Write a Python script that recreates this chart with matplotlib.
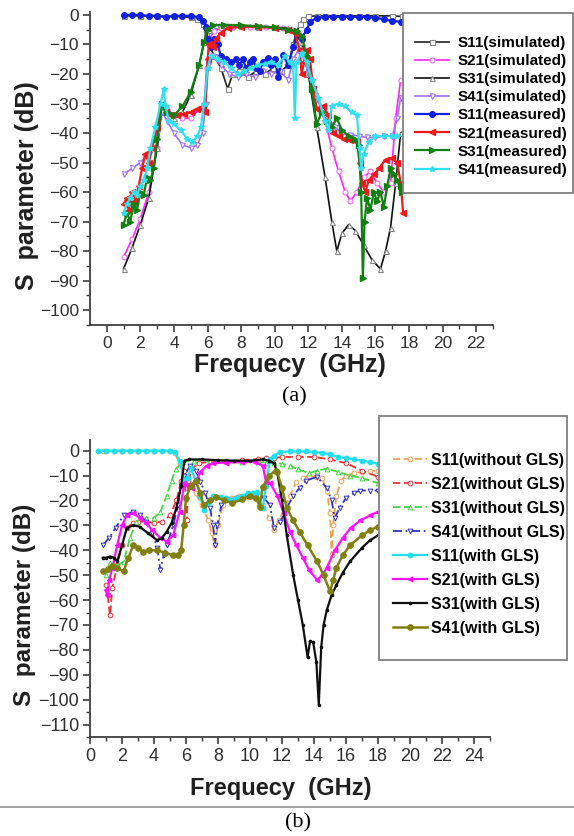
import matplotlib
matplotlib.use("Agg")
import matplotlib.pyplot as plt
from matplotlib.patches import Rectangle
from matplotlib.lines import Line2D

W, H = 574, 836

# ---------------- panel (a) data ----------------
a_s11_sim_f = [1, 2, 3, 4, 5, 5.4, 5.7, 5.9, 6.1, 6.4, 6.8, 7.2, 7.5, 7.9, 8.4, 8.9, 9.4, 9.9,
               10.4, 10.8, 11.1, 11.3, 11.5, 11.7, 12.0, 12.5, 13, 14, 15, 16, 17, 17.6]
a_s11_sim_db = [-0.3, -0.3, -0.4, -0.5, -0.8, -1.5, -3, -6, -10, -14, -18, -25, -20, -19, -21, -19, -20, -18,
                -19, -17, -10, -6, -3, -1.5, -0.5, -0.3, -0.3, -0.3, -0.3, -0.3, -0.3, -0.5]

a_s21_sim_f = [1, 1.5, 2, 2.5, 3.0, 3.3, 3.6, 4.0, 4.5, 5.0, 5.5, 5.8, 5.95, 6.1, 6.4, 6.8, 7.5, 8.5, 9.5,
               10.5, 11.0, 11.4, 11.8, 12.2, 12.6, 13.0, 13.4, 13.8, 14.2, 14.5, 14.9, 15.3, 15.7, 16.1,
               16.5, 16.9, 17.2, 17.5]
a_s21_sim_db = [-82, -76, -69, -60, -45, -31, -32, -34, -35, -35, -32, -30, -18, -8, -5.5, -4.5, -4, -4, -4.2,
                -4.5, -5, -6, -12, -22, -30, -36, -45, -53, -60, -63, -60, -55, -53, -57,
                -60, -57, -35, -22]

a_s31_sim_f = [1, 1.5, 2, 2.5, 3.0, 3.3, 3.6, 4.0, 4.5, 5.0, 5.5, 5.8, 6.1, 6.5, 7, 8, 9, 10, 10.8, 11.2,
               11.6, 12.0, 12.5, 13.0, 13.4, 13.7, 14.0, 14.4, 14.8, 15.3, 15.8, 16.3, 16.6, 16.9, 17.2, 17.5]
a_s31_sim_db = [-86, -79, -71, -62, -45, -31, -33, -35, -33, -27, -17, -9, -5, -3.5, -3.5, -3.8, -4, -4.2, -4.5, -5.5,
                -9, -20, -38, -55, -70, -80, -74, -71, -73, -78, -83, -86, -80, -72, -57, -40]

a_s41_sim_f = [1, 1.5, 2, 2.5, 3.0, 3.3, 3.6, 4.0, 4.5, 5.0, 5.4, 5.7, 5.9, 6.05, 6.3, 6.8, 7.3, 7.8, 8.3,
               8.8, 9.3, 9.8, 10.3, 10.8, 11.1, 11.4, 11.7, 12.0, 12.4, 12.8, 13.2, 13.6, 14.0, 14.5,
               15.0, 15.5, 16.0, 16.5, 17.0, 17.3, 17.5]
a_s41_sim_db = [-54, -52, -50, -47, -40, -33, -36, -40, -44, -45, -44, -40, -30, -17, -14, -17, -20, -21, -20,
                -21, -19, -20, -19, -22, -15, -12, -14, -20, -27, -32, -35, -38, -40, -40.5,
                -41, -41.5, -41.5, -41, -41, -35, -28]

a_s11_meas_f = [1.0, 1.5, 2.0, 2.5, 3.0, 3.5, 4.0, 4.5, 5.0, 5.5, 5.75, 5.9, 6.0, 6.2, 6.4, 6.6, 6.8, 7.1,
                7.4, 7.7, 7.9, 8.1, 8.3, 8.5, 8.7, 8.9, 9.1, 9.3, 9.6, 9.8, 10.0, 10.2, 10.5, 10.8, 11.1,
                11.35, 11.6, 11.9, 12.1, 12.5, 13, 13.5, 14, 14.5, 15, 15.5, 16, 16.5, 17, 17.5]
a_s11_meas_db = [0, 0, 0, -0.3, -0.2, -0.8, -0.3, -0.3, -0.3, -0.8, -2, -4, -8, -11, -8, -10, -14, -15,
                 -16, -15, -17, -15, -18, -16, -15, -18, -19, -16, -14.5, -17, -15, -21, -13.5, -17, -11,
                 -7, -8, -5, -2.3, -1, -0.8, -0.6, -0.6, -0.8, -0.6, -0.8, -0.9, -1.5, -2, -2.3]

a_s21_meas_f = [1.0, 1.2, 1.3, 1.5, 1.7, 1.9, 2.1, 2.3, 2.5, 2.7, 3.0, 3.3, 3.5, 3.8, 4.2, 4.6, 5.0, 5.4,
                5.7, 5.85, 6.0, 6.1, 6.3, 6.5, 6.8, 7.2, 8, 9, 10, 10.8, 11.2, 11.5, 11.6, 11.75, 11.9,
                12.1, 12.3, 12.5, 12.9, 13.2, 13.5, 13.8, 14.1, 14.5, 14.9, 15.05, 15.2, 15.4, 15.6,
                15.9, 16.2, 16.6, 17.0, 17.3, 17.5, 17.65]
a_s21_meas_db = [-64, -62, -66, -60, -63, -58, -52, -47, -50, -45, -38, -30, -33, -34, -34, -33.5, -33, -32,
                 -32, -33, -15, -10, -11, -8, -6, -4.5, -4, -4, -4.5, -5, -6, -12, -20, -16, -12,
                 -15, -25, -32, -31, -34, -40, -41, -42, -42.5, -43, -50, -57, -60, -56,
                 -54, -52, -49, -48.5, -50, -57, -67]

a_s31_meas_f = [1.0, 1.2, 1.4, 1.6, 1.8, 2.0, 2.2, 2.4, 2.6, 2.8, 3.0, 3.3, 3.6, 4.0, 4.5, 5.0, 5.5, 5.8,
                6.0, 6.3, 7, 8, 9, 10, 10.8, 11.3, 11.6, 11.9, 12.2, 12.5, 12.8, 13.1, 13.4, 13.7, 14.0,
                14.4, 14.8, 15.0, 15.15, 15.25, 15.35, 15.5, 15.7, 15.9, 16.1, 16.3, 16.5, 16.7, 16.9,
                17.1, 17.3, 17.5, 17.6]
a_s31_meas_db = [-71, -67, -70, -64, -66, -60, -61, -55, -56, -52, -42, -30, -33, -34, -31, -26, -17, -9,
                 -5, -3.5, -3.3, -3.5, -3.8, -4.2, -5, -5.5, -7, -14, -25, -37, -33, -36, -38, -35, -39,
                 -41, -42, -44, -60, -89, -70, -62, -66, -60, -63, -60, -65, -58, -52,
                 -54, -56, -58, -60]

a_s41_meas_f = [1.0, 1.2, 1.4, 1.6, 1.8, 2.0, 2.2, 2.4, 2.6, 2.9, 3.2, 3.4, 3.5, 3.7, 4.0, 4.4, 4.8, 5.1,
                5.4, 5.6, 5.8, 6.0, 6.2, 6.6, 7.0, 7.4, 7.8, 8.2, 8.6, 9.0, 9.4, 9.8, 10.2, 10.6, 10.9,
                11.1, 11.2, 11.3, 11.6, 11.9, 12.2, 12.6, 13.0, 13.2, 13.4, 13.8, 14.2, 14.6, 14.9,
                15.05, 15.15, 15.3, 15.6, 16.0, 16.5, 17.0, 17.3]
a_s41_meas_db = [-67, -64, -62, -60, -61, -58, -56, -52, -45, -38, -30, -25, -31, -36, -37, -39, -42, -43,
                 -41, -38, -30, -18, -14, -15, -16, -18, -20, -19, -18, -17, -16.5, -16, -17, -14, -16,
                 -17, -35, -16, -13, -16, -22, -28, -36, -39, -31, -30, -31, -33, -34,
                 -45, -52, -47, -43, -41, -41, -41, -41]

a_labels = ["S11(simulated)", "S21(simulated)", "S31(simulated)", "S41(simulated)",
            "S11(measured)", "S21(measured)", "S31(measured)", "S41(measured)"]

# ---------------- panel (b) data ----------------
b_s11_wo_f = [0.8, 2, 3, 4, 5, 5.3, 5.6, 5.9, 6.2, 6.6, 7.0, 7.4, 7.6, 7.8, 8.0, 8.3, 8.8, 9.3, 9.8, 10.3,
              10.8, 11.2, 11.5, 11.8, 12.1, 12.5, 12.9, 13.3, 13.7, 14.1, 14.5, 14.8, 15.0, 15.1, 15.2,
              15.4, 15.7, 16.0, 16.5, 17, 17.5, 18]
b_s11_wo_db = [0, 0, 0, 0, -0.3, -1, -5, -10, -14, -17, -22, -28, -33, -38, -30, -22, -19, -18, -18.5, -19,
               -22, -27, -32, -28, -24, -18, -12.5, -11, -10, -10.5, -11, -16, -25, -42, -30,
               -18, -12, -10, -9, -8.5, -8.2, -8]

b_s21_wo_f = [1.0, 1.1, 1.25, 1.4, 1.7, 2.0, 2.3, 2.7, 3.0, 3.5, 4.0, 4.5, 5.0, 5.4, 5.7, 5.9, 6.05, 6.15,
              6.4, 6.8, 7.5, 8.5, 9.5, 10.5, 11.0, 11.5, 12.0, 13, 14, 15, 16, 17, 18]
b_s21_wo_db = [-54, -58, -66, -55, -46, -38, -31, -29, -28.5, -28.5, -29, -28.5, -26, -20, -12, -8, -28, -12,
               -7, -5, -4.5, -4.2, -3.8, -3.3, -3, -3, -2.5, -2.5, -2.5, -3.5, -5, -8, -10.5]

b_s31_wo_f = [1.0, 1.25, 1.7, 2.1, 2.5, 2.9, 3.5, 4.0, 4.4, 4.8, 5.1, 5.4, 5.8, 6.5, 7.5, 8.5, 9.5, 10.5,
              11.0, 11.5, 12.0, 12.5, 13.0, 13.7, 14.2, 14.8, 15.5, 16.25, 17, 18]
b_s31_wo_db = [-50, -45, -46, -44.6, -35, -28.5, -27, -27, -24.5, -18, -12, -7.2, -4.4, -4, -4, -4.2, -4.4, -4.5,
               -4.8, -5, -5.2, -6, -7.5, -9, -8, -7.2, -8.5, -10, -11, -13]

b_s41_wo_f = [0.8, 1.2, 1.6, 2.1, 2.7, 3.1, 3.5, 3.9, 4.2, 4.4, 4.6, 4.8, 5.2, 5.5, 5.7, 5.9, 6.25, 6.6,
              6.9, 7.2, 7.5, 7.7, 7.8, 7.95, 8.2, 8.75, 9.3, 9.8, 10.4, 10.9, 11.25, 11.5, 11.9, 12.3,
              12.7, 13.1, 13.5, 14.2, 14.8, 15.1, 15.3, 15.6, 16.0, 16.5, 16.9, 17.5, 18]
b_s41_wo_db = [-38, -35, -31, -26, -24.5, -26, -28.5, -33, -39, -48, -42, -38, -30, -22, -14, -10, -6, -8,
               -12.4, -17, -23, -30, -38, -30, -22, -20, -19, -18, -18, -19, -22, -31, -28.6, -23,
               -18, -15, -12, -10.5, -15, -20, -27, -23, -19, -17, -16, -16, -16]

b_s11_w_f = [0.5, 1, 1.5, 2, 2.5, 3, 3.5, 4, 4.5, 5, 5.3, 5.6, 5.9, 6.1, 6.3, 6.6, 6.9, 7.1, 7.4, 7.7,
             8.1, 8.5, 8.75, 9.1, 9.5, 9.9, 10.2, 10.45, 10.6, 10.8, 11.0, 11.25, 11.5, 11.9, 12.5, 13,
             13.5, 14, 14.5, 15, 15.5, 16, 16.5, 17, 17.5, 18]
b_s11_w_db = [0, 0, 0, 0, 0, 0, 0, 0, 0, 0, -0.5, -4, -12, -11, -7, -12, -18, -24, -21, -18,
              -18.5, -19, -20, -19, -18, -17, -17, -16.5, -22, -23, -14, -3.5, -2, -0.5, -0.3, -0.3,
              -0.3, -0.5, -0.8, -1.5, -2.5, -3, -3.5, -4, -4.5, -5.2]

b_s21_w_f = [1.0, 1.06, 1.2, 1.4, 1.7, 2.0, 2.3, 2.7, 3.1, 3.5, 3.9, 4.4, 4.8, 5.2, 5.6, 5.9, 6.1, 6.4,
             6.9, 7.3, 7.7, 8.5, 9.5, 10.3, 10.8, 11.0, 11.25, 11.7, 12.1, 12.5, 12.9, 13.3, 13.7, 14.2,
             14.5, 14.8, 15.3, 15.8, 16.3, 16.9, 17.5, 18]
b_s21_w_db = [-56, -58, -52, -47, -38, -30, -26, -25, -27, -29, -32, -35, -36.5, -34, -24.5, -13, -14, -15,
              -8.5, -6, -5, -4.8, -4.6, -4.5, -6, -12.5, -13, -18, -25, -32.6, -38, -43, -48, -52,
              -50, -47, -40, -35, -31, -28, -26, -24.6]

b_s31_w_f = [0.8, 1.0, 1.25, 1.5, 1.7, 2.0, 2.3, 2.7, 3.1, 3.6, 4.2, 4.5, 4.8, 5.1, 5.4, 5.7, 5.9, 6.2, 7,
             8, 9, 10, 10.8, 11.2, 11.5, 11.7, 12.0, 12.3, 12.7, 13.0, 13.3, 13.6, 13.75, 13.95, 14.15,
             14.3, 14.45, 14.6, 14.8, 15.1, 15.4, 15.8, 16.25, 17, 17.5, 18]
b_s31_w_db = [-43, -43, -42.5, -43, -44.5, -38, -31, -30, -30.5, -33, -36, -35, -32.5, -29, -23, -14, -4, -3.5,
              -3.5, -3.8, -4, -4, -3.5, -4, -5, -8.6, -20, -34, -50, -60, -70, -83, -76.5, -77, -85,
              -102, -79, -70, -64, -58, -54, -49, -44.5, -39, -36, -34]

b_s41_w_f = [0.8, 1.1, 1.4, 1.7, 2.1, 2.4, 2.7, 3.0, 3.3, 3.7, 4.2, 4.7, 5.2, 5.5, 5.7, 5.85, 6.0, 6.3,
             6.6, 6.9, 7.1, 7.5, 7.9, 8.4, 8.9, 9.5, 10.0, 10.4, 10.6, 10.8, 11.2, 11.6, 11.7, 12.0,
             12.3, 12.7, 13.1, 13.6, 14.2, 14.6, 15.0, 15.2, 15.4, 15.8, 16.25, 17, 17.5, 18]
b_s41_w_db = [-48.5, -47.5, -46.5, -47, -48.5, -43, -38, -39, -40.5, -40, -40, -41, -42, -42, -40, -30, -19,
              -14, -12, -17, -22, -20, -18.5, -20, -21, -19.5, -18, -19, -22.5, -14.5, -10, -8, -8.6,
              -15, -23, -28, -32.6, -38, -44.5, -50, -56.5, -52, -47, -42, -38, -34, -32, -30.5]

b_labels = ["S11(without GLS)", "S21(without GLS)", "S31(without GLS)", "S41(without GLS)",
            "S11(with GLS)", "S21(with GLS)", "S31(with GLS)", "S41(with GLS)"]

SANS = "Liberation Sans"
SERIF = "Liberation Serif"


def px_axes(fig, x0, y0, x1, y1):
    """Axes from pixel box (top-left origin)."""
    return fig.add_axes([x0 / W, 1 - y1 / H, (x1 - x0) / W, (y1 - y0) / H])


def style_axes(ax, xmax_tick, ymin_tick, tick_size):
    for side in ["top", "right"]:
        ax.spines[side].set_visible(False)
    for side in ["left", "bottom"]:
        ax.spines[side].set_color("#404040")
        ax.spines[side].set_linewidth(1.3)
    ax.set_xticks(range(0, xmax_tick + 1, 2))
    ax.set_xticks(range(0, xmax_tick + 2, 1), minor=True)
    ax.set_yticks(range(0, ymin_tick - 1, -10))
    ax.set_yticks(range(0, ymin_tick - 6, -5), minor=True)
    ax.tick_params(which="major", direction="out", length=5, width=1.2, color="#404040",
                   labelsize=tick_size, pad=3)
    ax.tick_params(which="minor", direction="out", length=3, width=1.0, color="#404040")
    for lab in ax.get_xticklabels() + ax.get_yticklabels():
        lab.set_fontfamily(SANS)
        lab.set_color("#303030")


def legend_box(fig, x0, y0, x1, y1):
    rect = Rectangle((x0 / W, 1 - y1 / H), (x1 - x0) / W, (y1 - y0) / H, transform=fig.transFigure,
                     facecolor="white", edgecolor="#808080", linewidth=1.3, zorder=3)
    fig.add_artist(rect)


fig = plt.figure(figsize=(W / 100, H / 100), dpi=100)

# ---------------- panel (a) ----------------
ax = px_axes(fig, 90, 12, 493, 325)
ax.set_xlim(-1, 22.7)
ax.set_ylim(-100, 1)
sim_kw = dict(linewidth=1.2, markersize=3.6, markerfacecolor="white", markeredgewidth=0.8)
meas_kw = dict(linewidth=1.6, markersize=4)
la = []
la += ax.plot(a_s11_sim_f, a_s11_sim_db, color="#222222", marker="s", markeredgecolor="#888888", **sim_kw)
la += ax.plot(a_s21_sim_f, a_s21_sim_db, color="#FF22FF", marker="o", markeredgecolor="#FF66FF", **sim_kw)
la += ax.plot(a_s31_sim_f, a_s31_sim_db, color="#111111", marker="^", markeredgecolor="#888888", **sim_kw)
la += ax.plot(a_s41_sim_f, a_s41_sim_db, color="#A070FF", marker="v", markeredgecolor="#A070FF", **sim_kw)
la += ax.plot(a_s11_meas_f, a_s11_meas_db, color="#1020E0", marker="o", **meas_kw)
la += ax.plot(a_s21_meas_f, a_s21_meas_db, color="#F01818", marker="<", **meas_kw)
la += ax.plot(a_s31_meas_f, a_s31_meas_db, color="#108010", marker=">", **meas_kw)
la += ax.plot(a_s41_meas_f, a_s41_meas_db, color="#30E0F0", marker="*", **meas_kw)
style_axes(ax, 22, -100, 12.5)

legend_box(fig, 403, 13, 573, 193)
fig.legend(la, a_labels, loc="upper left", bbox_to_anchor=(415 / W, 1 - 36 / H), frameon=False,
           borderpad=0, borderaxespad=0, handlelength=2.2, handletextpad=0.6, labelspacing=0.27,
           prop=dict(family=SANS, weight="bold", size=11)).set_zorder(4)

fig.text(27 / W, 1 - 186 / H, "S  parameter (dB)", rotation=90, ha="center", va="center",
         fontsize=18, fontweight="bold", family=SANS, color="#202020")
fig.text(290 / W, 1 - 365 / H, "Frequecy  (GHz)", ha="center", va="center",
         fontsize=18, fontweight="bold", family=SANS, color="#202020")
fig.text(294 / W, 1 - 397 / H, "(a)", ha="center", va="center", fontsize=16, family=SERIF)

# ---------------- panel (b) ----------------
bx = px_axes(fig, 90, 440, 490, 737)
bx.set_xlim(0, 25)
bx.set_ylim(-114.5, 4.3)
wo_kw = dict(linewidth=1.3, markersize=3.4, markerfacecolor="white", markeredgewidth=0.7)
w_kw = dict(linewidth=1.6, markersize=3.2)
lb = []
lb += bx.plot(b_s11_wo_f, b_s11_wo_db, color="#F0A050", linestyle=(0, (4, 2)), marker="o", **wo_kw)
lb += bx.plot(b_s21_wo_f, b_s21_wo_db, color="#F03030", linestyle=(0, (4, 2)), marker="o", **wo_kw)
lb += bx.plot(b_s31_wo_f, b_s31_wo_db, color="#40D840", linestyle=(0, (4, 2)), marker="^", **wo_kw)
lb += bx.plot(b_s41_wo_f, b_s41_wo_db, color="#3030C0", linestyle=(0, (5, 2, 1, 2)), marker="v", **wo_kw)
lb += bx.plot(b_s11_w_f, b_s11_w_db, color="#20E0F0", marker="o", **w_kw)
lb += bx.plot(b_s21_w_f, b_s21_w_db, color="#FF10FF", marker="<", **w_kw)
lb += bx.plot(b_s31_w_f, b_s31_w_db, color="#101010", marker=".", **w_kw)
lb += bx.plot(b_s41_w_f, b_s41_w_db, color="#808010", marker="o", linewidth=1.8, markersize=3.8)
style_axes(bx, 24, -110, 13)

legend_box(fig, 379, 416, 567, 660)
fig.legend(lb, b_labels, loc="upper left", bbox_to_anchor=(393 / W, 1 - 453 / H), frameon=False,
           borderpad=0, borderaxespad=0, handlelength=2.1, handletextpad=0.3, labelspacing=0.56,
           prop=dict(family=SANS, weight="bold", size=11.5)).set_zorder(4)

fig.text(24 / W, 1 - 605 / H, "S  parameter (dB)", rotation=90, ha="center", va="center",
         fontsize=17.5, fontweight="bold", family=SANS, color="#202020")
fig.text(281 / W, 1 - 788 / H, "Frequecy  (GHz)", ha="center", va="center",
         fontsize=17, fontweight="bold", family=SANS, color="#202020")

fig.add_artist(Line2D([0, 1], [1 - 807 / H, 1 - 807 / H], transform=fig.transFigure,
                      color="#909090", linewidth=1.2))
fig.text(298 / W, 1 - 823 / H, "(b)", ha="center", va="center", fontsize=16, family=SERIF)

fig.savefig("out.png", dpi=100)
